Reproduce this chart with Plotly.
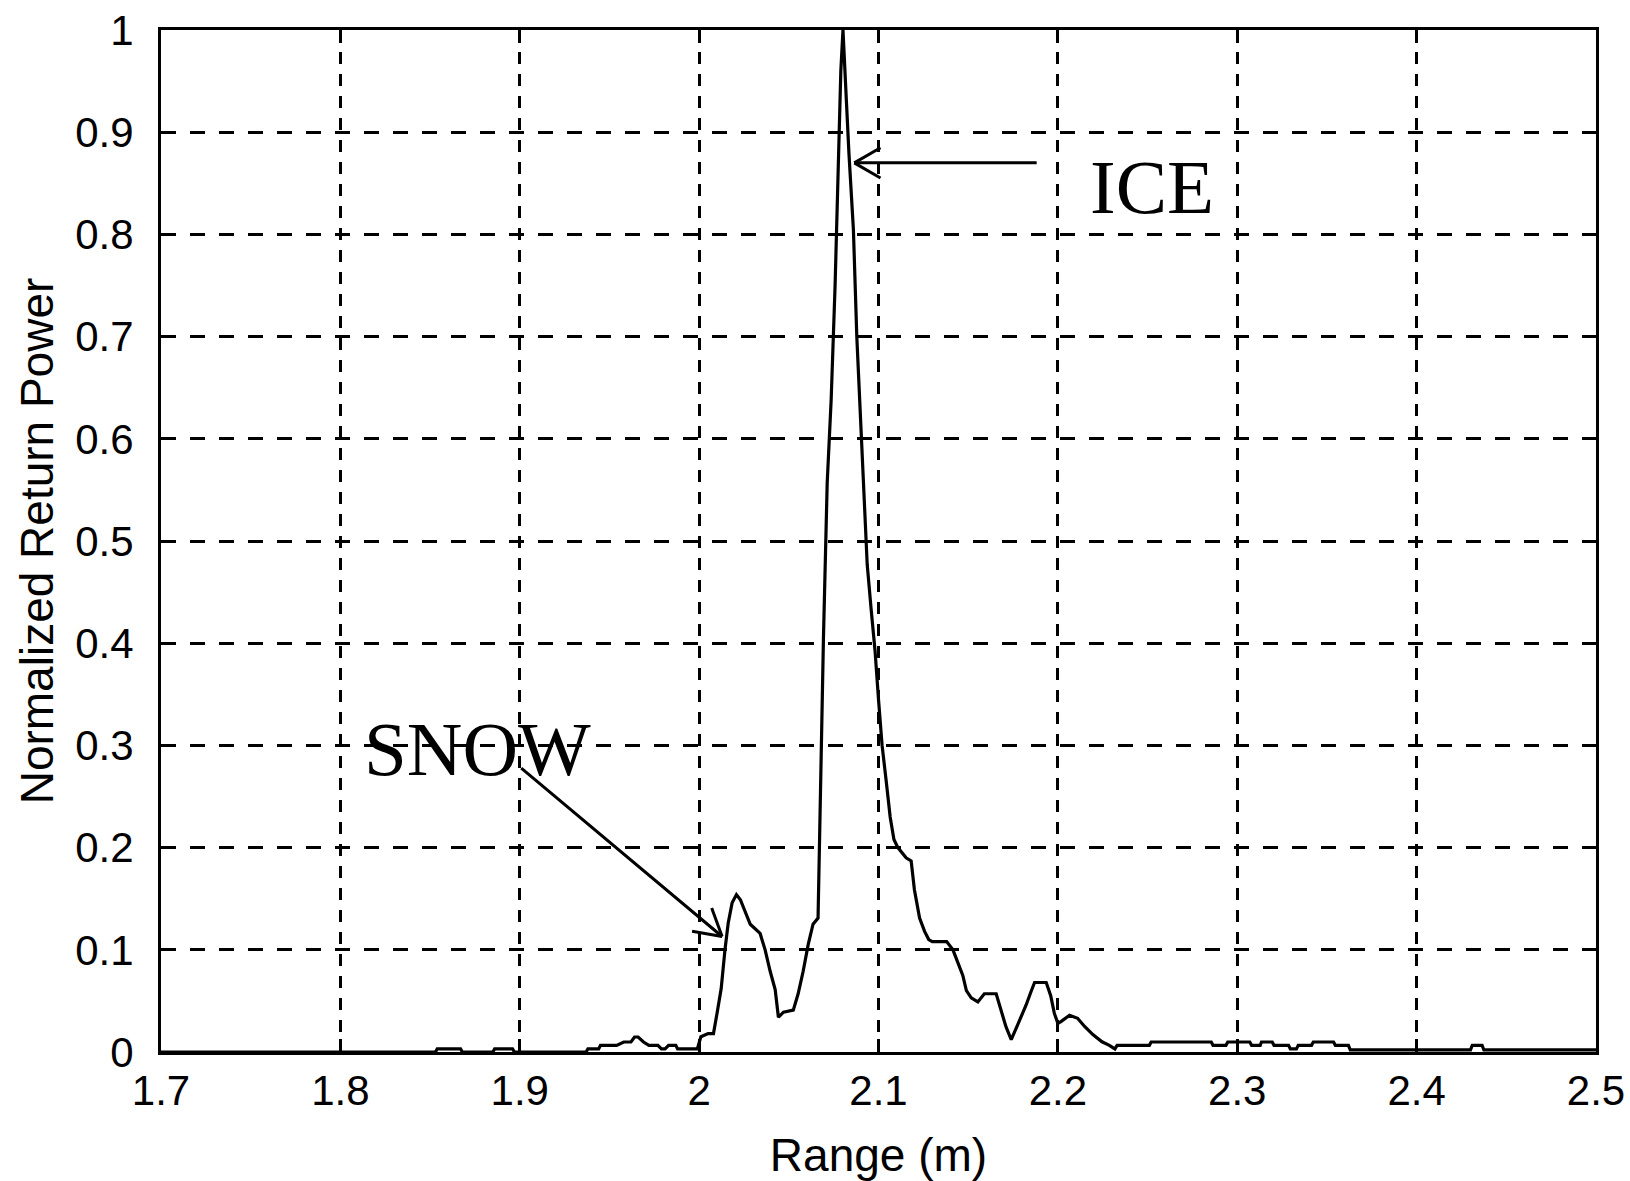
import math
import plotly.graph_objects as go

# Radar return profile over snow-covered sea ice
range_m = [
    1.700, 1.853, 1.854, 1.867, 1.868, 1.885, 1.886, 1.896, 1.897, 1.937,
    1.938, 1.944, 1.945, 1.954, 1.958, 1.962, 1.964, 1.966, 1.969, 1.972,
    1.977, 1.979, 1.981, 1.983, 1.987, 1.988, 1.999, 2.001, 2.005, 2.008,
    2.010, 2.0123, 2.0144, 2.0162, 2.0184, 2.0208, 2.023, 2.0285, 2.034, 2.0368,
    2.0396, 2.0424, 2.0442, 2.047, 2.0525, 2.0552, 2.058, 2.0608, 2.0635, 2.0663,
    2.0670, 2.0680, 2.0693, 2.0714, 2.0736, 2.0758, 2.0779, 2.0790, 2.0802, 2.0810,
    2.0822, 2.0835, 2.0860, 2.0879, 2.0900, 2.0918, 2.0937, 2.0959, 2.0981, 2.1000,
    2.1020, 2.1043, 2.1065, 2.1086, 2.1108, 2.1154, 2.1182, 2.1200, 2.1229, 2.1257,
    2.1280, 2.1300, 2.1380, 2.1415, 2.1440, 2.1470, 2.1490, 2.1517, 2.1554, 2.1590,
    2.1656, 2.1675, 2.1710, 2.1740, 2.1767, 2.1796, 2.1823, 2.1850, 2.1870, 2.1935,
    2.1960, 2.1980, 2.2000, 2.2019, 2.2065, 2.2110, 2.2149, 2.2195, 2.2216, 2.2246,
    2.2287, 2.2318, 2.2330, 2.2510, 2.2520, 2.2855, 2.2865, 2.2937, 2.2947, 2.3070,
    2.3080, 2.3128, 2.3135, 2.3195, 2.3205, 2.3286, 2.3296, 2.3330, 2.3340, 2.3414,
    2.3424, 2.3537, 2.3547, 2.3620, 2.3630, 2.4300, 2.4310, 2.4365, 2.4375, 2.5000,
]
power = [
    0.000, 0.000, 0.003, 0.003, 0.000, 0.000, 0.003, 0.003, 0.000, 0.000,
    0.003, 0.003, 0.0065, 0.0065, 0.0098, 0.0098, 0.0147, 0.0147, 0.0098, 0.0065,
    0.0065, 0.003, 0.003, 0.0065, 0.0065, 0.003, 0.003, 0.015, 0.018, 0.018,
    0.038, 0.062, 0.100, 0.126, 0.146, 0.154, 0.149, 0.125, 0.116, 0.100,
    0.079, 0.061, 0.034, 0.039, 0.041, 0.057, 0.079, 0.105, 0.125, 0.131,
    0.195, 0.300, 0.404, 0.557, 0.638, 0.750, 0.885, 0.960, 1.000, 0.975,
    0.927, 0.880, 0.805, 0.700, 0.615, 0.537, 0.477, 0.433, 0.392, 0.345,
    0.300, 0.265, 0.230, 0.208, 0.200, 0.190, 0.187, 0.159, 0.131, 0.118,
    0.110, 0.108, 0.108, 0.100, 0.088, 0.075, 0.060, 0.053, 0.049, 0.057,
    0.057, 0.045, 0.025, 0.012, 0.023, 0.036, 0.046, 0.059, 0.068, 0.068,
    0.055, 0.038, 0.028, 0.030, 0.036, 0.033, 0.025, 0.017, 0.014, 0.010,
    0.0065, 0.003, 0.0065, 0.0065, 0.0098, 0.0098, 0.0065, 0.0065, 0.0098, 0.0098,
    0.0065, 0.0065, 0.0098, 0.0098, 0.0065, 0.0065, 0.003, 0.003, 0.0065, 0.0065,
    0.0098, 0.0098, 0.0065, 0.0065, 0.002, 0.002, 0.0065, 0.0065, 0.002, 0.002,
]

x_ticks = [1.7, 1.8, 1.9, 2.0, 2.1, 2.2, 2.3, 2.4, 2.5]
x_tick_text = ["1.7", "1.8", "1.9", "2", "2.1", "2.2", "2.3", "2.4", "2.5"]
y_ticks = [0.0, 0.1, 0.2, 0.3, 0.4, 0.5, 0.6, 0.7, 0.8, 0.9, 1.0]
y_tick_text = ["0", "0.1", "0.2", "0.3", "0.4", "0.5", "0.6", "0.7", "0.8", "0.9", "1"]

# Layer labels and the points their arrows indicate
ice_label = "ICE"
ice_label_pos = (2.2524, 0.846)
ice_arrow_tip = (2.0865, 0.870)
ice_arrow_tail = (2.189, 0.870)

snow_label = "SNOW"
snow_label_pos = (1.8765, 0.296)
snow_arrow_tip = (2.0128, 0.113)
snow_arrow_tail = (1.900, 0.279)

W, H = 1630, 1181
M_L, M_R, M_T, M_B = 161, 34, 30, 129
X_RANGE = (1.7, 2.5)
Y_RANGE = (0.0, 1.0)
px_per_x = (W - M_L - M_R) / (X_RANGE[1] - X_RANGE[0])
px_per_y = (H - M_T - M_B) / (Y_RANGE[1] - Y_RANGE[0])

fig = go.Figure()
fig.add_trace(go.Scatter(
    x=range_m, y=power, mode="lines",
    line=dict(color="black", width=3.2),
    hoverinfo="skip", showlegend=False,
))

annotations = []


def open_arrow(tip, tail, barb_len=32, barb_deg=30, width=3.0):
    """Shaft plus two barbs forming an open V arrowhead."""
    annotations.append(dict(
        x=tip[0], y=tip[1], ax=tail[0], ay=tail[1], xref="x", yref="y",
        axref="x", ayref="y", text="", showarrow=True, arrowhead=0,
        arrowwidth=width, arrowcolor="black", standoff=0, startstandoff=0,
    ))
    dx = (tail[0] - tip[0]) * px_per_x
    dy = -(tail[1] - tip[1]) * px_per_y
    n = math.hypot(dx, dy)
    ux, uy = dx / n, dy / n
    for sgn in (1, -1):
        a = math.radians(barb_deg) * sgn
        bx = ux * math.cos(a) - uy * math.sin(a)
        by = ux * math.sin(a) + uy * math.cos(a)
        annotations.append(dict(
            x=tip[0], y=tip[1], ax=bx * barb_len, ay=by * barb_len,
            xref="x", yref="y", text="", showarrow=True, arrowhead=0,
            arrowwidth=width, arrowcolor="black", standoff=0, startstandoff=0,
        ))


open_arrow(ice_arrow_tip, ice_arrow_tail)
open_arrow(snow_arrow_tip, snow_arrow_tail)

label_font = dict(family="Liberation Serif, Times New Roman, serif", size=77, color="black")
annotations.append(dict(x=ice_label_pos[0], y=ice_label_pos[1], xref="x", yref="y",
                        text=ice_label, showarrow=False, font=label_font))
annotations.append(dict(x=snow_label_pos[0], y=snow_label_pos[1], xref="x", yref="y",
                        text=snow_label, showarrow=False, font=label_font))

axis_font = dict(family="Liberation Sans, Arial, sans-serif", size=42, color="black")
title_font = dict(family="Liberation Sans, Arial, sans-serif", size=46, color="black")

fig.update_layout(
    width=W, height=H,
    margin=dict(l=M_L, r=M_R, t=M_T, b=M_B, autoexpand=False),
    paper_bgcolor="white", plot_bgcolor="white",
    showlegend=False,
    annotations=annotations,
    xaxis=dict(
        range=list(X_RANGE), tickvals=x_ticks, ticktext=x_tick_text,
        tickfont=axis_font, ticks="inside", ticklen=13, tickwidth=3, tickcolor="black",
        showline=True, linecolor="black", linewidth=3, mirror="ticks",
        showgrid=True, gridcolor="black", gridwidth=3, griddash="12px,10px",
        zeroline=False, ticklabelstandoff=0,
        title=dict(text="Range (m)", font=title_font, standoff=30),
    ),
    yaxis=dict(
        range=list(Y_RANGE), tickvals=y_ticks, ticktext=y_tick_text,
        tickfont=axis_font, ticks="inside", ticklen=13, tickwidth=3, tickcolor="black",
        showline=True, linecolor="black", linewidth=3, mirror="ticks",
        showgrid=True, gridcolor="black", gridwidth=3, griddash="15px,14px",
        zeroline=False, ticklabelstandoff=16,
        title=dict(text="Normalized Return Power", font=title_font, standoff=8),
    ),
)

fig.write_html("out.html")
